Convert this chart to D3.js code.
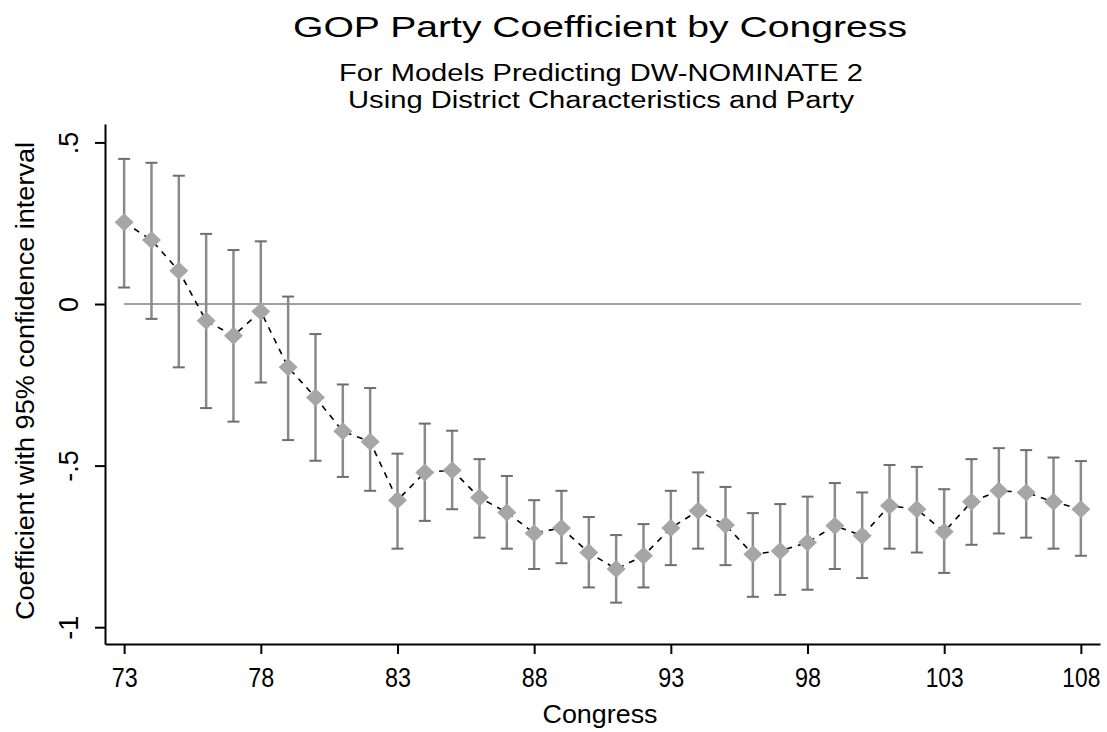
<!DOCTYPE html>
<html>
<head>
<meta charset="utf-8">
<script src="https://cdn.jsdelivr.net/npm/d3@7"></script>
<style>
  body { margin: 0; background: #fff; }
  text { font-family: "Liberation Sans", Arial, sans-serif; fill: #000; }
</style>
</head>
<body>
<div id="chart"></div>
<script>
// values
var congress = [73, 74, 75, 76, 77, 78, 79, 80, 81, 82, 83, 84, 85, 86, 87, 88, 89, 90,
                91, 92, 93, 94, 95, 96, 97, 98, 99, 100, 101, 102, 103, 104, 105, 106, 107, 108];
var coef  = [0.253, 0.198, 0.103, -0.052, -0.098, -0.023, -0.196, -0.289, -0.394, -0.426,
             -0.607, -0.521, -0.514, -0.599, -0.645, -0.709, -0.693, -0.769, -0.820, -0.779,
             -0.693, -0.640, -0.684, -0.774, -0.764, -0.738, -0.686, -0.717, -0.624, -0.635,
             -0.705, -0.612, -0.578, -0.583, -0.612, -0.635];
var upper = [0.449, 0.437, 0.397, 0.217, 0.167, 0.194, 0.023, -0.093, -0.249, -0.260,
             -0.463, -0.370, -0.392, -0.480, -0.532, -0.607, -0.578, -0.659, -0.715, -0.681,
             -0.578, -0.521, -0.566, -0.647, -0.619, -0.596, -0.554, -0.583, -0.498, -0.504,
             -0.573, -0.480, -0.446, -0.452, -0.475, -0.486];
var lower = [0.051, -0.046, -0.196, -0.322, -0.364, -0.243, -0.421, -0.485, -0.535, -0.578,
             -0.757, -0.671, -0.635, -0.723, -0.757, -0.820, -0.802, -0.877, -0.924, -0.877,
             -0.808, -0.757, -0.808, -0.906, -0.900, -0.884, -0.820, -0.848, -0.757, -0.769,
             -0.832, -0.745, -0.710, -0.723, -0.757, -0.779];
var xTicks = [73, 78, 83, 88, 93, 98, 103, 108];
var yTicks = [-1, -0.5, 0, 0.5];
var yTickLabels = ["-1", "-.5", "0", ".5"];

var title = "GOP Party Coefficient by Congress";
var subtitle = ["For Models Predicting DW-NOMINATE 2", "Using District Characteristics and Party"];
var xTitle = "Congress";
var yTitle = "Coefficient with 95% confidence interval";

var width = 1107, height = 732;

var data = congress.map(function(c, i) {
  return {congress: c, coef: coef[i], lo: lower[i], hi: upper[i]};
});

var svg = d3.select("#chart").append("svg")
            .attr("width", width)
            .attr("height", height);

var x = d3.scaleLinear().domain([72.3, 108.7]).range([105, 1100]);
var y = d3.scaleLinear().domain([-1.052, 0.557]).range([644, 124]);

// titles
svg.append("text")
   .attr("x", 600).attr("y", 37)
   .attr("text-anchor", "middle")
   .attr("textLength", 614).attr("lengthAdjust", "spacingAndGlyphs")
   .style("font-size", "30px")
   .text(title);

svg.selectAll(".subtitle")
   .data(subtitle)
   .enter().append("text")
   .attr("class", "subtitle")
   .attr("x", 601)
   .attr("y", function(d, i) { return 81 + i * 27; })
   .attr("text-anchor", "middle")
   .attr("textLength", function(d, i) { return i == 0 ? 524 : 506; })
   .attr("lengthAdjust", "spacingAndGlyphs")
   .style("font-size", "23px")
   .text(function(d) { return d; });

// y axis
var yAxis = svg.append("g")
   .attr("transform", "translate(105,0)")
   .call(d3.axisLeft(y).tickValues(yTicks).tickSize(10).tickSizeOuter(0)
           .tickFormat(function(d, i) { return yTickLabels[i]; }));

yAxis.select(".domain").attr("stroke", "#000").attr("stroke-width", 2);
yAxis.selectAll(".tick line").attr("stroke", "#000").attr("stroke-width", 2);
yAxis.selectAll(".tick text")
     .attr("x", 0).attr("y", 0).attr("dy", 0)
     .attr("text-anchor", "middle")
     .attr("transform", "translate(-27,0) rotate(-90)")
     .style("font-size", "27px")
     .style("font-family", "'Liberation Sans', Arial, sans-serif");

// x axis
var xAxis = svg.append("g")
   .attr("transform", "translate(0,644)")
   .call(d3.axisBottom(x).tickValues(xTicks).tickSize(10).tickSizeOuter(0)
           .tickFormat(d3.format("d")));

xAxis.select(".domain").attr("stroke", "#000").attr("stroke-width", 2);
xAxis.selectAll(".tick line").attr("stroke", "#000").attr("stroke-width", 2);
xAxis.selectAll(".tick text")
     .attr("y", 43).attr("dy", 0)
     .attr("textLength", function(d) { return d >= 100 ? 38 : 26; })
     .attr("lengthAdjust", "spacingAndGlyphs")
     .style("font-size", "27px")
     .style("font-family", "'Liberation Sans', Arial, sans-serif");

// axis titles
svg.append("text")
   .attr("x", 600).attr("y", 723)
   .attr("text-anchor", "middle")
   .attr("textLength", 115).attr("lengthAdjust", "spacingAndGlyphs")
   .style("font-size", "25px")
   .text(xTitle);

svg.append("text")
   .attr("transform", "translate(34,381) rotate(-90)")
   .attr("text-anchor", "middle")
   .attr("textLength", 478).attr("lengthAdjust", "spacingAndGlyphs")
   .style("font-size", "26px")
   .text(yTitle);

// zero reference line
svg.append("line")
   .attr("x1", x(congress[0])).attr("x2", x(congress[congress.length - 1]))
   .attr("y1", y(0)).attr("y2", y(0))
   .attr("stroke", "#a0a0a0")
   .attr("stroke-width", 2);

// error bars
var bars = svg.append("g").selectAll("g")
   .data(data)
   .enter().append("g");

bars.append("line")
    .attr("x1", function(d) { return x(d.congress); })
    .attr("x2", function(d) { return x(d.congress); })
    .attr("y1", function(d) { return y(d.hi); })
    .attr("y2", function(d) { return y(d.lo); })
    .attr("stroke", "#8a8a8a")
    .attr("stroke-width", 2.5);

bars.selectAll(".cap")
    .data(function(d) { return [[d.congress, d.hi], [d.congress, d.lo]]; })
    .enter().append("line")
    .attr("class", "cap")
    .attr("x1", function(d) { return x(d[0]) - 6; })
    .attr("x2", function(d) { return x(d[0]) + 6; })
    .attr("y1", function(d) { return y(d[1]); })
    .attr("y2", function(d) { return y(d[1]); })
    .attr("stroke", "#6e6e6e")
    .attr("stroke-width", 2);

// dashed connecting line
svg.append("path")
   .datum(data)
   .attr("fill", "none")
   .attr("stroke", "#000")
   .attr("stroke-width", 1.6)
   .attr("stroke-dasharray", "6,6")
   .attr("d", d3.line()
               .x(function(d) { return x(d.congress); })
               .y(function(d) { return y(d.coef); }));

// diamonds
svg.append("g").selectAll("path")
   .data(data)
   .enter().append("path")
   .attr("transform", function(d) { return "translate(" + x(d.congress) + "," + y(d.coef) + ")"; })
   .attr("d", "M0,-9 L9.5,0 L0,9 L-9.5,0 Z")
   .attr("fill", "#a6a6a6");
</script>
</body>
</html>
